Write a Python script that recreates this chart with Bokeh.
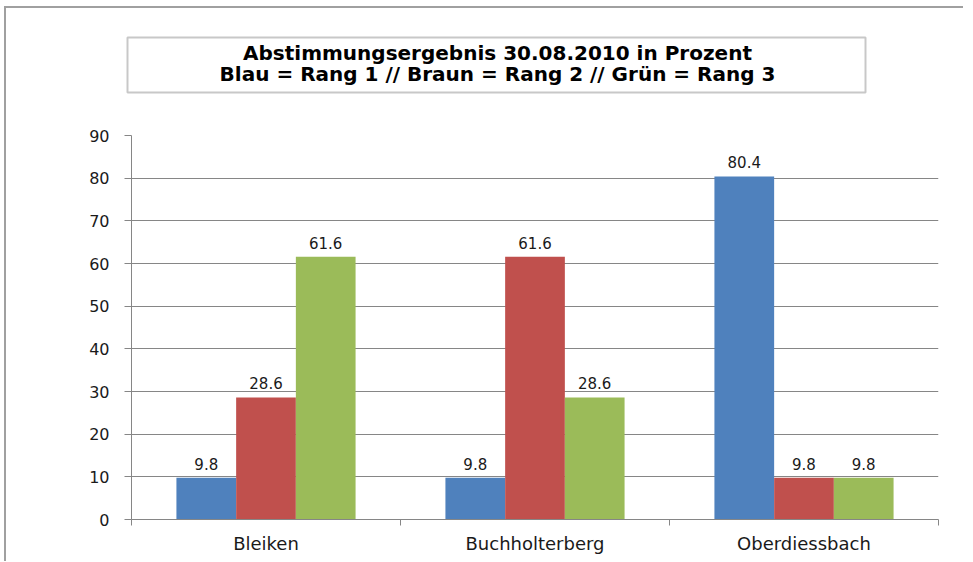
from bokeh.plotting import figure
from bokeh.layouts import column, row
from bokeh.models import ColumnDataSource, FixedTicker, LabelSet, Range1d
from bokeh.core.properties import value
from bokeh.embed import file_html
from bokeh.resources import INLINE

categories = ["Bleiken", "Buchholterberg", "Oberdiessbach"]
blau = [9.8, 9.8, 80.4]
braun = [28.6, 61.6, 9.8]
gruen = [61.6, 28.6, 9.8]
y_ticks = [0, 10, 20, 30, 40, 50, 60, 70, 80, 90]
title_lines = ["Abstimmungsergebnis 30.08.2010 in Prozent",
               "Blau = Rang 1 // Braun = Rang 2 // Grün = Rang 3"]

colors = ["#4F81BD", "#C0504D", "#9BBB59"]
series = [blau, braun, gruen]

OX, OY = 6, 8     # page offset of the content (after the CSS frame border)
W = 957
TH = 110          # title strip height

# ---------- title strip (data coords == page px) ----------
tf = figure(width=W, height=TH, output_backend="svg", toolbar_location=None,
            x_range=Range1d(OX, OX + W), y_range=Range1d(OY + TH, OY),
            x_axis_location=None, y_axis_location=None,
            min_border=0, min_border_left=0, min_border_right=0,
            min_border_top=0, min_border_bottom=0)
tf.outline_line_color = None
tf.xgrid.grid_line_color = None
tf.ygrid.grid_line_color = None
tf.background_fill_color = "white"
tf.border_fill_color = "white"
tf.quad(left=[127], right=[865], top=[37], bottom=[92],
        fill_color="white", line_color="#c8c8c8", line_width=2)
tf.text(x=[497, 497], y=[52, 73], text=title_lines, text_align="center",
        text_baseline="middle", text_font=value("DejaVu Sans"),
        text_font_style="bold", text_font_size="20px", text_color="#000000")

# ---------- chart ----------
ML, MR, MT, MB = 131 - OX, OX + W - 938, 17, 42
H = MT + 384 + MB
p = figure(width=W, height=H, output_backend="svg", toolbar_location=None,
           x_range=Range1d(0, len(categories)), y_range=Range1d(0, 90),
           min_border_left=ML, min_border_right=MR, min_border_top=MT, min_border_bottom=MB)
p.outline_line_color = None
p.background_fill_color = "white"
p.border_fill_color = "white"

centers = [i + 0.5 for i in range(len(categories))]
bw = 0.222
offsets = [-bw, 0.0, bw]
for vals, col, off in zip(series, colors, offsets):
    src = ColumnDataSource(dict(x=[c + off for c in centers], top=vals,
                                lab=["%.1f" % v for v in vals]))
    p.vbar(x="x", top="top", width=bw, source=src, fill_color=col, line_color=None)
    p.add_layout(LabelSet(x="x", y="top", text="lab", source=src, text_align="center",
                          text_baseline="bottom", y_offset=8, text_color="#1a1a1a",
                          text_font=value("DejaVu Sans"), text_font_size="15px"))

grid_color = "#868686"
p.xgrid.grid_line_color = None
p.ygrid.grid_line_color = grid_color
p.ygrid.ticker = FixedTicker(ticks=y_ticks)

p.yaxis.ticker = FixedTicker(ticks=y_ticks)
p.yaxis.axis_line_color = grid_color
p.yaxis.major_tick_line_color = grid_color
p.yaxis.major_tick_in = 0
p.yaxis.major_tick_out = 7
p.yaxis.minor_tick_line_color = None
p.yaxis.major_label_text_font = "DejaVu Sans"
p.yaxis.major_label_text_font_size = "16px"
p.yaxis.major_label_text_color = "#1a1a1a"
p.yaxis.major_label_standoff = 15

p.xaxis.ticker = FixedTicker(ticks=centers, minor_ticks=list(range(len(categories) + 1)))
p.xaxis.major_label_overrides = {c: n for c, n in zip(centers, categories)}
p.xaxis.axis_line_color = grid_color
p.xaxis.major_tick_line_color = None
p.xaxis.minor_tick_line_color = grid_color
p.xaxis.minor_tick_in = 0
p.xaxis.minor_tick_out = 6
p.xaxis.major_label_text_font = "DejaVu Sans"
p.xaxis.major_label_text_font_size = "18px"
p.xaxis.major_label_text_color = "#1a1a1a"
p.xaxis.major_label_standoff = 7

layout = column(row(tf), p, spacing=0,
                styles={"border-left": "2px solid #a0a0a0", "border-top": "2px solid #a0a0a0",
                        "margin-left": "4px", "margin-top": "6px"})

open("out.html", "w").write(file_html(layout, INLINE))
